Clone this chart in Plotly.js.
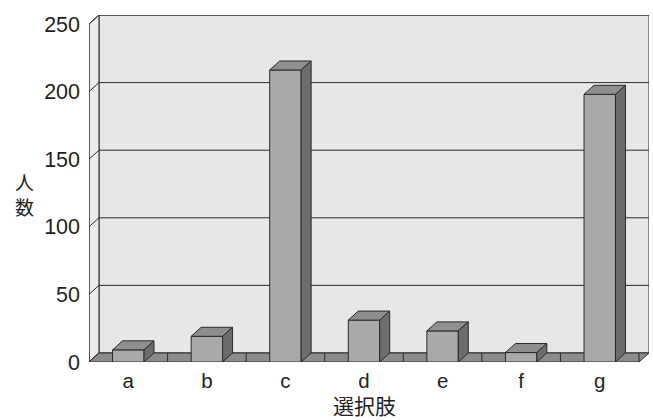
<!DOCTYPE html>
<html>
<head>
<meta charset="utf-8">
<script src="https://cdn.plot.ly/plotly-3.0.1.min.js"></script>
<style>html,body{margin:0;padding:0;background:#fff;}#chart{width:653px;height:420px;}</style>
</head>
<body>
<div id="chart"></div>
<script>
// Data
const categories = ['a', 'b', 'c', 'd', 'e', 'f', 'g'];
const counts = [9, 19, 216, 31, 23, 7, 198];
const yTicks = [0, 50, 100, 150, 200, 250];

// 3D look parameters (depth offsets in axis units)
const DX = 0.127;   // depth shift along x (category units)
const DY = 6.67;    // depth shift along y (value units)
const BW = 0.40;    // bar width (category units)
const YMAX = 250;
const lineCol = '#2a2a2a';

const xs = categories.map((c, i) => i);
const xL = -0.5, xR = categories.length - 0.5;

const traces = [];
// Front faces
traces.push({
  type: 'bar', x: xs, y: counts, width: BW,
  marker: {color: '#a8a9ab', line: {color: lineCol, width: 1}},
  hoverinfo: 'skip', showlegend: false
});
// Top and side faces
counts.forEach((v, i) => {
  const l = i - BW / 2, r = i + BW / 2;
  traces.push({
    type: 'scatter', mode: 'lines', fill: 'toself', fillcolor: '#8e8f91',
    x: [l, l + DX, r + DX, r, l], y: [v, v + DY, v + DY, v, v],
    line: {color: lineCol, width: 1}, hoverinfo: 'skip', showlegend: false
  });
  traces.push({
    type: 'scatter', mode: 'lines', fill: 'toself', fillcolor: '#6c6d6f',
    x: [r, r + DX, r + DX, r, r], y: [0, DY, v + DY, v, 0],
    line: {color: lineCol, width: 1}, hoverinfo: 'skip', showlegend: false
  });
});

const shapes = [];
const P = (pts) => 'M ' + pts.map(p => p[0] + ',' + p[1]).join(' L ') + ' Z';
// Back wall
shapes.push({type: 'path', xref: 'x', yref: 'y', layer: 'below',
  path: P([[xL + DX, DY], [xR + DX, DY], [xR + DX, YMAX + DY], [xL + DX, YMAX + DY]]),
  fillcolor: '#e6e7e8', line: {color: lineCol, width: 1}});
// Left wall
shapes.push({type: 'path', xref: 'x', yref: 'y', layer: 'below',
  path: P([[xL, 0], [xL + DX, DY], [xL + DX, YMAX + DY], [xL, YMAX]]),
  fillcolor: '#ececed', line: {color: lineCol, width: 1}});
// Gridlines on back wall and left wall
yTicks.forEach(t => {
  if (t > 0) {
    shapes.push({type: 'line', xref: 'x', yref: 'y', layer: 'below',
      x0: xL + DX, x1: xR + DX, y0: t + DY, y1: t + DY, line: {color: lineCol, width: 1}});
  }
  shapes.push({type: 'line', xref: 'x', yref: 'y', layer: 'below',
    x0: xL, x1: xL + DX, y0: t, y1: t + DY, line: {color: lineCol, width: 1}});
});
// Floor
shapes.push({type: 'path', xref: 'x', yref: 'y', layer: 'below',
  path: P([[xL, 0], [xR, 0], [xR + DX, DY], [xL + DX, DY]]),
  fillcolor: '#8b8c8e', line: {color: lineCol, width: 1}});
// Floor ticks at category boundaries
for (let k = 0; k <= categories.length; k++) {
  const bx = xL + k;
  shapes.push({type: 'line', xref: 'x', yref: 'y', layer: 'below',
    x0: bx, x1: bx, y0: 0, y1: DY, line: {color: lineCol, width: 1}});
}
// Front y axis line
shapes.push({type: 'line', xref: 'x', yref: 'y', layer: 'below',
  x0: xL, x1: xL, y0: 0, y1: YMAX, line: {color: lineCol, width: 1}});

const font = 'Liberation Sans, Arial, Noto Sans CJK JP, sans-serif';
const cjk = 'Noto Sans CJK JP, sans-serif';
const layout = {
  width: 653, height: 420,
  margin: {l: 89, r: 4, t: 15, b: 58, pad: 0},
  paper_bgcolor: '#ffffff', plot_bgcolor: 'rgba(0,0,0,0)',
  font: {family: font, color: '#231f20', size: 20},
  showlegend: false,
  xaxis: {
    range: [xL, xR + DX], tickvals: xs, ticktext: categories,
    showgrid: false, zeroline: false, showline: false, ticks: '',
    tickfont: {size: 20.5}, fixedrange: true, ticklabelstandoff: 4
  },
  yaxis: {
    range: [0, YMAX + DY], tickvals: yTicks, ticktext: yTicks.map(String),
    showgrid: false, zeroline: false, showline: false, ticks: '',
    tickfont: {size: 21.5}, fixedrange: true, ticklabelstandoff: 8
  },
  shapes: shapes,
  annotations: [{
    text: '人<br>数', xref: 'paper', yref: 'paper', x: (24 - 89) / 560, y: 0.485,
    xanchor: 'center', yanchor: 'middle', showarrow: false,
    font: {size: 19, family: cjk, color: '#231f20'}
  }, {
    text: '選択肢', xref: 'x', yref: 'paper', x: (xL + xR) / 2, y: -(405 - 362) / 347,
    xanchor: 'center', yanchor: 'middle', showarrow: false,
    font: {size: 21, family: cjk, color: '#231f20'}
  }]
};

Plotly.newPlot('chart', traces, layout, {displayModeBar: false, staticPlot: true});
</script>
</body>
</html>
